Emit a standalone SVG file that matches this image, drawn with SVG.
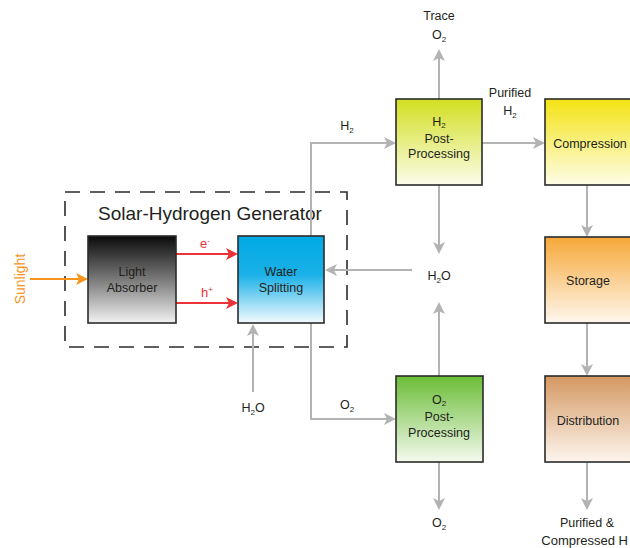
<svg xmlns="http://www.w3.org/2000/svg" width="630" height="548" viewBox="0 0 630 548">
<defs>
<linearGradient id="gBlack" x1="0" y1="0" x2="0" y2="1"><stop offset="0" stop-color="#0a0a0a"/><stop offset="0.5" stop-color="#7a7a7a"/><stop offset="1" stop-color="#f2f2f2"/></linearGradient>
<linearGradient id="gBlue" x1="0" y1="0" x2="0" y2="1"><stop offset="0" stop-color="#00a9e4"/><stop offset="0.45" stop-color="#1bb1e8"/><stop offset="1" stop-color="#f4fbfe"/></linearGradient>
<linearGradient id="gH2" x1="0" y1="0" x2="0" y2="1"><stop offset="0" stop-color="#d2df20"/><stop offset="1" stop-color="#fbfcea"/></linearGradient>
<linearGradient id="gComp" x1="0" y1="0" x2="0" y2="1"><stop offset="0" stop-color="#f3e313"/><stop offset="1" stop-color="#fefde8"/></linearGradient>
<linearGradient id="gStor" x1="0" y1="0" x2="0" y2="1"><stop offset="0" stop-color="#f6a838"/><stop offset="1" stop-color="#fef7ee"/></linearGradient>
<linearGradient id="gDist" x1="0" y1="0" x2="0" y2="1"><stop offset="0" stop-color="#d49862"/><stop offset="1" stop-color="#fdf5ee"/></linearGradient>
<linearGradient id="gO2" x1="0" y1="0" x2="0" y2="1"><stop offset="0" stop-color="#6abd36"/><stop offset="1" stop-color="#f4faee"/></linearGradient>
<marker id="ag" markerWidth="12" markerHeight="12" refX="10" refY="6" orient="auto" markerUnits="userSpaceOnUse"><path d="M0,0 L12,6 L0,12 L3,6 z" fill="#b3b3b3"/></marker>
<marker id="ar" markerWidth="12" markerHeight="12" refX="10" refY="6" orient="auto" markerUnits="userSpaceOnUse"><path d="M0,0 L12,6 L0,12 L3,6 z" fill="#ed3237"/></marker>
<marker id="ao" markerWidth="12" markerHeight="12" refX="10" refY="6" orient="auto" markerUnits="userSpaceOnUse"><path d="M0,0 L12,6 L0,12 L3,6 z" fill="#f7941d"/></marker>
</defs>
<style>
text{font-family:"Liberation Sans",Arial,sans-serif;font-size:12.5px;fill:#231f20;text-anchor:middle}
.sub{font-size:8px}
.box{stroke:#2b2b2b;stroke-width:1.6}
.g{fill:none;stroke:#b3b3b3;stroke-width:2;marker-end:url(#ag)}
.r{fill:none;stroke:#ed3237;stroke-width:2;marker-end:url(#ar)}
.o{fill:none;stroke:#f7941d;stroke-width:2;marker-end:url(#ao)}
</style>
<rect width="630" height="548" fill="#ffffff"/>
<g id="generator">
<rect x="65" y="192" width="282" height="155" fill="none" stroke="#2b2b2b" stroke-width="1.6" stroke-dasharray="15,10"/>
<text x="210" y="220" style="font-size:19px">Solar-Hydrogen Generator</text>
</g>
<g id="connectors">
<path class="g" d="M311,290 V143 H394"/>
<path class="g" d="M311,290 V419 H394"/>
<path class="g" d="M439,99 V51"/>
<path class="g" d="M482,143 H543"/>
<path class="g" d="M439,185 V252"/>
<path class="g" d="M439,376 V304"/>
<path class="g" d="M412,270 H327"/>
<path class="g" d="M253,392 V326"/>
<path class="g" d="M587,185 V235"/>
<path class="g" d="M587,323 V374"/>
<path class="g" d="M439,462 V508"/>
<path class="g" d="M587,462 V508"/>
<path class="r" d="M176,254 H236"/>
<path class="r" d="M176,303 H236"/>
<path class="o" d="M30,279 H86"/>
</g>
<g id="light-absorber">
<rect class="box" x="88" y="236" width="88" height="87" fill="url(#gBlack)"/>
<text x="132" y="276">Light</text>
<text x="132" y="292">Absorber</text>
</g>
<g id="water-splitting">
<rect class="box" x="238" y="236" width="86" height="87" fill="url(#gBlue)"/>
<text x="281" y="276">Water</text>
<text x="281" y="292">Splitting</text>
</g>
<g id="h2-post">
<rect class="box" x="396" y="99" width="86" height="86" fill="url(#gH2)"/>
<text x="439" y="126">H<tspan class="sub" dy="2">2</tspan></text>
<text x="439" y="143">Post-</text>
<text x="439" y="158">Processing</text>
</g>
<g id="o2-post">
<rect class="box" x="396" y="376" width="87" height="86" fill="url(#gO2)"/>
<text x="439" y="404">O<tspan class="sub" dy="2">2</tspan></text>
<text x="439" y="421">Post-</text>
<text x="439" y="437">Processing</text>
</g>
<g id="compression">
<rect class="box" x="545" y="99" width="100" height="86" fill="url(#gComp)"/>
<text x="590" y="148">Compression</text>
</g>
<g id="storage">
<rect class="box" x="545" y="237" width="100" height="86" fill="url(#gStor)"/>
<text x="588" y="285">Storage</text>
</g>
<g id="distribution">
<rect class="box" x="545" y="376" width="100" height="86" fill="url(#gDist)"/>
<text x="588" y="425">Distribution</text>
</g>
<g id="labels">
<text x="20" y="279" transform="rotate(-90 20 279)" dy="5" style="fill:#f7941d;font-size:14px">Sunlight</text>
<text x="205" y="248" style="fill:#ed3237;font-size:13px">e<tspan class="sub" dy="-5">-</tspan></text>
<text x="207" y="297" style="fill:#ed3237;font-size:13px">h<tspan class="sub" dy="-5">+</tspan></text>
<text x="439" y="20">Trace</text>
<text x="439" y="39">O<tspan class="sub" dy="3">2</tspan></text>
<text x="510" y="97">Purified</text>
<text x="510" y="115">H<tspan class="sub" dy="3">2</tspan></text>
<text x="347" y="130">H<tspan class="sub" dy="3">2</tspan></text>
<text x="439" y="280">H<tspan class="sub" dy="3">2</tspan><tspan dy="-3">O</tspan></text>
<text x="253" y="412">H<tspan class="sub" dy="3">2</tspan><tspan dy="-3">O</tspan></text>
<text x="347" y="409">O<tspan class="sub" dy="3">2</tspan></text>
<text x="439" y="527">O<tspan class="sub" dy="3">2</tspan></text>
<text x="587" y="527">Purified &amp;</text>
<text x="628" y="545" style="text-anchor:end;font-size:13px">Compressed H</text>
</g>
</svg>
